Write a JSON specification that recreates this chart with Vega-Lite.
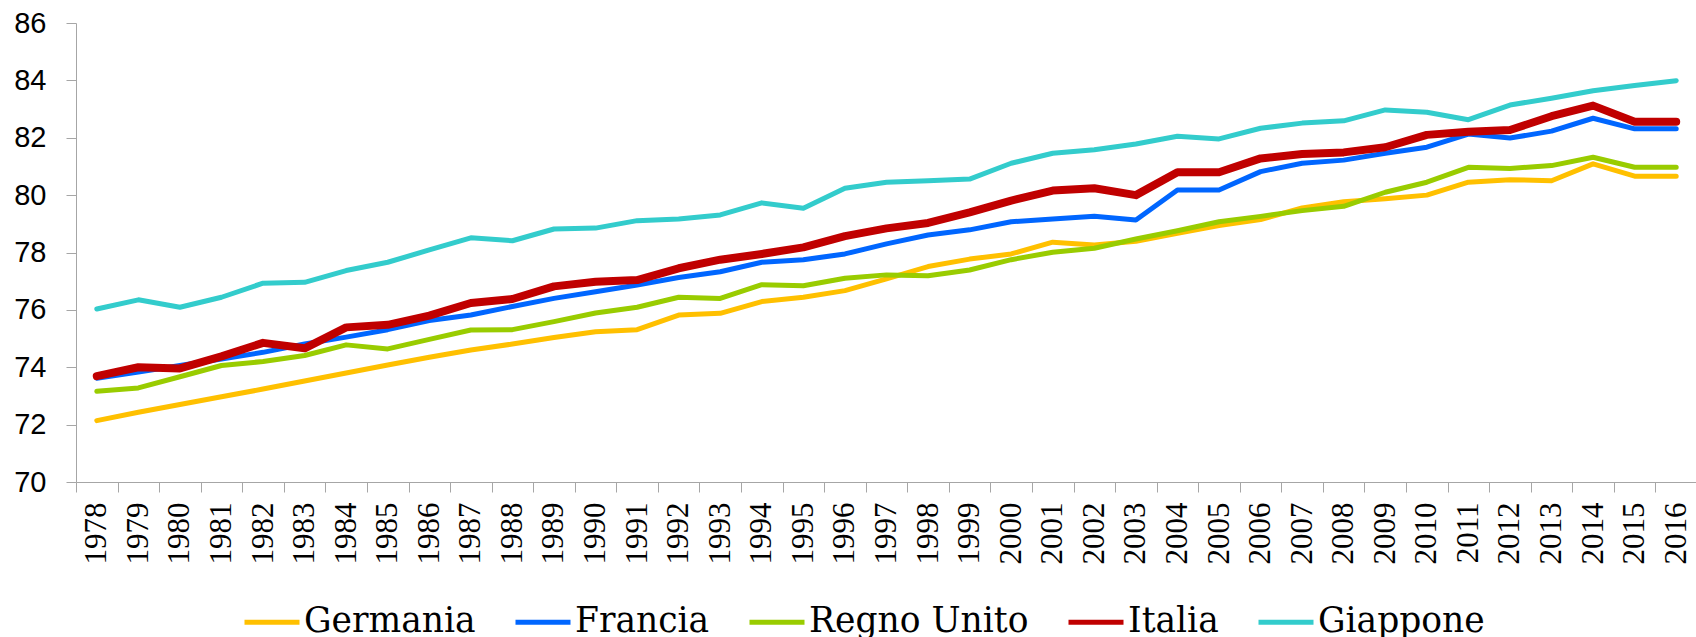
{
  "$schema": "https://vega.github.io/schema/vega-lite/v6.json",
  "width": 1621,
  "height": 459,
  "padding": {"left": 13, "top": 9, "right": 0, "bottom": 0},
  "background": "white",
  "config": {"view": {"stroke": null}},
  "datasets": {
    "d": [
      {"anno":1978,"paese":"Germania","v":72.14},{"anno":1979,"paese":"Germania","v":72.43},{"anno":1980,"paese":"Germania","v":72.70},{"anno":1981,"paese":"Germania","v":72.97},{"anno":1982,"paese":"Germania","v":73.24},{"anno":1983,"paese":"Germania","v":73.52},{"anno":1984,"paese":"Germania","v":73.80},{"anno":1985,"paese":"Germania","v":74.08},{"anno":1986,"paese":"Germania","v":74.35},{"anno":1987,"paese":"Germania","v":74.60},{"anno":1988,"paese":"Germania","v":74.81},{"anno":1989,"paese":"Germania","v":75.04},{"anno":1990,"paese":"Germania","v":75.24},{"anno":1991,"paese":"Germania","v":75.31},{"anno":1992,"paese":"Germania","v":75.82},{"anno":1993,"paese":"Germania","v":75.88},{"anno":1994,"paese":"Germania","v":76.29},{"anno":1995,"paese":"Germania","v":76.44},{"anno":1996,"paese":"Germania","v":76.67},{"anno":1997,"paese":"Germania","v":77.08},{"anno":1998,"paese":"Germania","v":77.51},{"anno":1999,"paese":"Germania","v":77.77},{"anno":2000,"paese":"Germania","v":77.95},{"anno":2001,"paese":"Germania","v":78.36},{"anno":2002,"paese":"Germania","v":78.26},{"anno":2003,"paese":"Germania","v":78.39},{"anno":2004,"paese":"Germania","v":78.67},{"anno":2005,"paese":"Germania","v":78.94},{"anno":2006,"paese":"Germania","v":79.15},{"anno":2007,"paese":"Germania","v":79.55},{"anno":2008,"paese":"Germania","v":79.77},{"anno":2009,"paese":"Germania","v":79.87},{"anno":2010,"paese":"Germania","v":80.00},{"anno":2011,"paese":"Germania","v":80.45},{"anno":2012,"paese":"Germania","v":80.54},{"anno":2013,"paese":"Germania","v":80.50},{"anno":2014,"paese":"Germania","v":81.09},{"anno":2015,"paese":"Germania","v":80.66},{"anno":2016,"paese":"Germania","v":80.66},
      {"anno":1978,"paese":"Francia","v":73.62},{"anno":1979,"paese":"Francia","v":73.83},{"anno":1980,"paese":"Francia","v":74.06},{"anno":1981,"paese":"Francia","v":74.29},{"anno":1982,"paese":"Francia","v":74.52},{"anno":1983,"paese":"Francia","v":74.81},{"anno":1984,"paese":"Francia","v":75.05},{"anno":1985,"paese":"Francia","v":75.31},{"anno":1986,"paese":"Francia","v":75.63},{"anno":1987,"paese":"Francia","v":75.82},{"anno":1988,"paese":"Francia","v":76.12},{"anno":1989,"paese":"Francia","v":76.40},{"anno":1990,"paese":"Francia","v":76.63},{"anno":1991,"paese":"Francia","v":76.87},{"anno":1992,"paese":"Francia","v":77.13},{"anno":1993,"paese":"Francia","v":77.33},{"anno":1994,"paese":"Francia","v":77.66},{"anno":1995,"paese":"Francia","v":77.75},{"anno":1996,"paese":"Francia","v":77.95},{"anno":1997,"paese":"Francia","v":78.30},{"anno":1998,"paese":"Francia","v":78.61},{"anno":1999,"paese":"Francia","v":78.79},{"anno":2000,"paese":"Francia","v":79.07},{"anno":2001,"paese":"Francia","v":79.17},{"anno":2002,"paese":"Francia","v":79.26},{"anno":2003,"paese":"Francia","v":79.13},{"anno":2004,"paese":"Francia","v":80.18},{"anno":2005,"paese":"Francia","v":80.18},{"anno":2006,"paese":"Francia","v":80.82},{"anno":2007,"paese":"Francia","v":81.11},{"anno":2008,"paese":"Francia","v":81.22},{"anno":2009,"paese":"Francia","v":81.46},{"anno":2010,"paese":"Francia","v":81.67},{"anno":2011,"paese":"Francia","v":82.13},{"anno":2012,"paese":"Francia","v":81.99},{"anno":2013,"paese":"Francia","v":82.23},{"anno":2014,"paese":"Francia","v":82.68},{"anno":2015,"paese":"Francia","v":82.31},{"anno":2016,"paese":"Francia","v":82.31},
      {"anno":1978,"paese":"Regno Unito","v":73.16},{"anno":1979,"paese":"Regno Unito","v":73.28},{"anno":1980,"paese":"Regno Unito","v":73.67},{"anno":1981,"paese":"Regno Unito","v":74.06},{"anno":1982,"paese":"Regno Unito","v":74.20},{"anno":1983,"paese":"Regno Unito","v":74.41},{"anno":1984,"paese":"Regno Unito","v":74.78},{"anno":1985,"paese":"Regno Unito","v":74.64},{"anno":1986,"paese":"Regno Unito","v":74.97},{"anno":1987,"paese":"Regno Unito","v":75.30},{"anno":1988,"paese":"Regno Unito","v":75.31},{"anno":1989,"paese":"Regno Unito","v":75.59},{"anno":1990,"paese":"Regno Unito","v":75.89},{"anno":1991,"paese":"Regno Unito","v":76.09},{"anno":1992,"paese":"Regno Unito","v":76.44},{"anno":1993,"paese":"Regno Unito","v":76.40},{"anno":1994,"paese":"Regno Unito","v":76.88},{"anno":1995,"paese":"Regno Unito","v":76.84},{"anno":1996,"paese":"Regno Unito","v":77.10},{"anno":1997,"paese":"Regno Unito","v":77.22},{"anno":1998,"paese":"Regno Unito","v":77.19},{"anno":1999,"paese":"Regno Unito","v":77.39},{"anno":2000,"paese":"Regno Unito","v":77.75},{"anno":2001,"paese":"Regno Unito","v":78.01},{"anno":2002,"paese":"Regno Unito","v":78.15},{"anno":2003,"paese":"Regno Unito","v":78.47},{"anno":2004,"paese":"Regno Unito","v":78.76},{"anno":2005,"paese":"Regno Unito","v":79.07},{"anno":2006,"paese":"Regno Unito","v":79.26},{"anno":2007,"paese":"Regno Unito","v":79.46},{"anno":2008,"paese":"Regno Unito","v":79.61},{"anno":2009,"paese":"Regno Unito","v":80.10},{"anno":2010,"paese":"Regno Unito","v":80.45},{"anno":2011,"paese":"Regno Unito","v":80.97},{"anno":2012,"paese":"Regno Unito","v":80.93},{"anno":2013,"paese":"Regno Unito","v":81.03},{"anno":2014,"paese":"Regno Unito","v":81.32},{"anno":2015,"paese":"Regno Unito","v":80.97},{"anno":2016,"paese":"Regno Unito","v":80.97},
      {"anno":1978,"paese":"Italia","v":73.69},{"anno":1979,"paese":"Italia","v":74.00},{"anno":1980,"paese":"Italia","v":73.96},{"anno":1981,"paese":"Italia","v":74.38},{"anno":1982,"paese":"Italia","v":74.85},{"anno":1983,"paese":"Italia","v":74.66},{"anno":1984,"paese":"Italia","v":75.39},{"anno":1985,"paese":"Italia","v":75.48},{"anno":1986,"paese":"Italia","v":75.80},{"anno":1987,"paese":"Italia","v":76.24},{"anno":1988,"paese":"Italia","v":76.38},{"anno":1989,"paese":"Italia","v":76.82},{"anno":1990,"paese":"Italia","v":76.98},{"anno":1991,"paese":"Italia","v":77.04},{"anno":1992,"paese":"Italia","v":77.45},{"anno":1993,"paese":"Italia","v":77.75},{"anno":1994,"paese":"Italia","v":77.95},{"anno":1995,"paese":"Italia","v":78.18},{"anno":1996,"paese":"Italia","v":78.57},{"anno":1997,"paese":"Italia","v":78.84},{"anno":1998,"paese":"Italia","v":79.03},{"anno":1999,"paese":"Italia","v":79.40},{"anno":2000,"paese":"Italia","v":79.81},{"anno":2001,"paese":"Italia","v":80.16},{"anno":2002,"paese":"Italia","v":80.24},{"anno":2003,"paese":"Italia","v":80.00},{"anno":2004,"paese":"Italia","v":80.80},{"anno":2005,"paese":"Italia","v":80.80},{"anno":2006,"paese":"Italia","v":81.28},{"anno":2007,"paese":"Italia","v":81.43},{"anno":2008,"paese":"Italia","v":81.49},{"anno":2009,"paese":"Italia","v":81.67},{"anno":2010,"paese":"Italia","v":82.10},{"anno":2011,"paese":"Italia","v":82.21},{"anno":2012,"paese":"Italia","v":82.27},{"anno":2013,"paese":"Italia","v":82.75},{"anno":2014,"paese":"Italia","v":83.12},{"anno":2015,"paese":"Italia","v":82.56},{"anno":2016,"paese":"Italia","v":82.56},
      {"anno":1978,"paese":"Giappone","v":76.03},{"anno":1979,"paese":"Giappone","v":76.35},{"anno":1980,"paese":"Giappone","v":76.09},{"anno":1981,"paese":"Giappone","v":76.44},{"anno":1982,"paese":"Giappone","v":76.93},{"anno":1983,"paese":"Giappone","v":76.96},{"anno":1984,"paese":"Giappone","v":77.37},{"anno":1985,"paese":"Giappone","v":77.66},{"anno":1986,"paese":"Giappone","v":78.09},{"anno":1987,"paese":"Giappone","v":78.51},{"anno":1988,"paese":"Giappone","v":78.41},{"anno":1989,"paese":"Giappone","v":78.82},{"anno":1990,"paese":"Giappone","v":78.85},{"anno":1991,"paese":"Giappone","v":79.11},{"anno":1992,"paese":"Giappone","v":79.17},{"anno":1993,"paese":"Giappone","v":79.31},{"anno":1994,"paese":"Giappone","v":79.73},{"anno":1995,"paese":"Giappone","v":79.54},{"anno":1996,"paese":"Giappone","v":80.24},{"anno":1997,"paese":"Giappone","v":80.45},{"anno":1998,"paese":"Giappone","v":80.50},{"anno":1999,"paese":"Giappone","v":80.56},{"anno":2000,"paese":"Giappone","v":81.11},{"anno":2001,"paese":"Giappone","v":81.46},{"anno":2002,"paese":"Giappone","v":81.58},{"anno":2003,"paese":"Giappone","v":81.78},{"anno":2004,"paese":"Giappone","v":82.05},{"anno":2005,"paese":"Giappone","v":81.96},{"anno":2006,"paese":"Giappone","v":82.33},{"anno":2007,"paese":"Giappone","v":82.51},{"anno":2008,"paese":"Giappone","v":82.59},{"anno":2009,"paese":"Giappone","v":82.97},{"anno":2010,"paese":"Giappone","v":82.89},{"anno":2011,"paese":"Giappone","v":82.63},{"anno":2012,"paese":"Giappone","v":83.14},{"anno":2013,"paese":"Giappone","v":83.38},{"anno":2014,"paese":"Giappone","v":83.64},{"anno":2015,"paese":"Giappone","v":83.82},{"anno":2016,"paese":"Giappone","v":83.99}
    ]
  },
  "data": {"name": "d"},
  "mark": {"type": "line", "strokeCap": "round", "strokeJoin": "round"},
  "encoding": {
    "x": {
      "field": "anno", "type": "ordinal",
      "scale": {"type": "band", "paddingInner": 0, "paddingOuter": 0},
      "axis": {
        "title": null, "labelAngle": -90, "tickBand": "extent",
        "domainColor": "#A6A6A6", "tickColor": "#A6A6A6", "tickSize": 10,
        "labelPadding": 10, "labelFont": "Liberation Serif", "labelFontSize": 31,
        "labelColor": "#000000", "grid": false
      }
    },
    "y": {
      "field": "v", "type": "quantitative",
      "scale": {"domain": [70, 86], "nice": false, "zero": false},
      "axis": {
        "title": null, "values": [70, 72, 74, 76, 78, 80, 82, 84, 86],
        "domainColor": "#A6A6A6", "tickColor": "#A6A6A6", "tickSize": 10,
        "labelPadding": 20, "labelFont": "Liberation Sans", "labelFontSize": 29,
        "labelColor": "#000000", "grid": false
      }
    },
    "color": {
      "field": "paese", "type": "nominal",
      "sort": ["Germania", "Francia", "Regno Unito", "Italia", "Giappone"],
      "scale": {
        "domain": ["Germania", "Francia", "Regno Unito", "Italia", "Giappone"],
        "range": ["#FFC000", "#0066FF", "#99CC00", "#C00000", "#33CCCC"]
      },
      "legend": {
        "title": null, "orient": "none", "direction": "horizontal",
        "legendX": 166, "legendY": 569,
        "symbolType": "stroke", "symbolSize": 3025, "symbolStrokeWidth": 5,
        "labelFont": "DejaVu Serif", "labelFontSize": 34.5, "labelColor": "#000000",
        "labelOffset": 2, "columnPadding": 29, "labelLimit": 400
      }
    },
    "size": {
      "condition": {"test": "datum.paese === 'Italia'", "value": 8},
      "value": 5
    }
  }
}
